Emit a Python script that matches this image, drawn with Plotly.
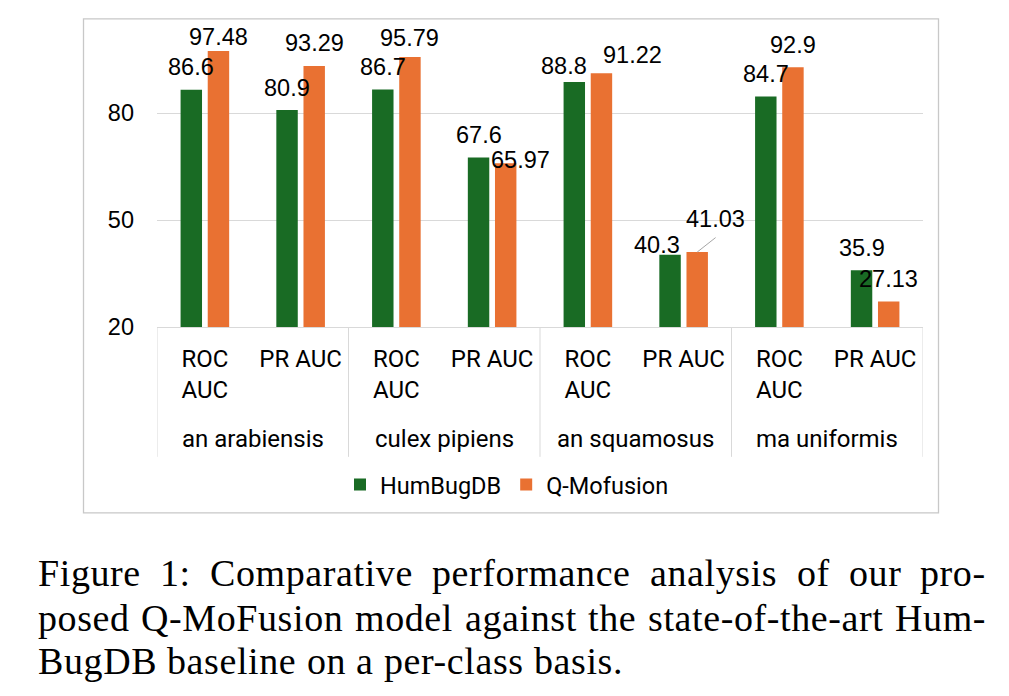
import plotly.graph_objects as go

# ---------------- data ----------------
groups = ["an arabiensis", "culex pipiens", "an squamosus", "ma uniformis"]
metrics = ["ROC<br>AUC", "PR AUC"]
series_names = ["HumBugDB", "Q-Mofusion"]
humbugdb = [86.6, 80.9, 86.7, 67.6, 88.8, 40.3, 84.7, 35.9]
qmofusion = [97.48, 93.29, 95.79, 65.97, 91.22, 41.03, 92.9, 27.13]
y_ticks = [20, 50, 80]
caption_lines = [
    "Figure 1: Comparative performance analysis of our pro-",
    "posed Q-MoFusion model against the state-of-the-art Hum-",
    "BugDB baseline on a per-class basis.",
]

# ---------------- layout constants ----------------
W, H = 1009, 696
PL, PRX, PB = 157, 923, 327
YMIN, YMAX = 20, 100
UNIT = (327 - 113) / 60.0
PT = PB - (YMAX - YMIN) * UNIT

def px_x(px):
    return (px - PL) / (PRX - PL)

def px_y(py):
    return (PB - py) / (PB - PT)

colors = ["#196B24", "#E97132"]
num_font = "Liberation Sans, Arial, sans-serif"
cat_font = "Roboto, Noto Sans, sans-serif"
cap_font = "Liberation Serif, Times New Roman, serif"

subcats = [m for g in groups for m in metrics]
xs = list(range(len(subcats)))

fig = go.Figure()
for name, vals, col in zip(series_names, [humbugdb, qmofusion], colors):
    fig.add_trace(go.Bar(x=xs, y=vals, name=name, marker=dict(color=col, line=dict(width=0))))

# data labels (with Excel-like manual adjustments)
NUM_SIZE = 23.5
BAR_OFF = 13.57
DEFAULT_GAP = 14.3
label_adjust = {
    (1, 0): (0, 5.7), (1, 2): (0, 11), (1, 3): (15, -5.3),
    (0, 4): (-10, 7.3), (1, 4): (30.6, 9.7),
    (0, 5): (-13.5, 2), (1, 5): (18, 25.3),
}
annotations = []
for si, vals in enumerate([humbugdb, qmofusion]):
    side = -BAR_OFF if si == 0 else BAR_OFF
    for i, v in enumerate(vals):
        dx, gap = label_adjust.get((si, i), (0, DEFAULT_GAP))
        annotations.append(dict(
            x=xs[i], y=v, xref="x", yref="y", text=str(v), showarrow=False,
            xanchor="center", yanchor="middle",
            xshift=side + dx, yshift=gap + 0.3465 * NUM_SIZE,
            font=dict(family=num_font, size=NUM_SIZE, color="black"),
        ))

shapes = []
# leader line for the displaced 41.03 label
shapes.append(dict(type="line", xref="x", yref="y", xsizemode="pixel", ysizemode="pixel",
                   xanchor=xs[5], yanchor=qmofusion[5],
                   x0=BAR_OFF, x1=BAR_OFF + 18.4, y0=0, y1=14.5,
                   line=dict(color="#a6a6a6", width=1)))

# group labels and dividers
for gi, g in enumerate(groups):
    annotations.append(dict(
        x=2 * gi + 0.5, y=px_y(447.5 - 0.3415 * 24), xref="x", yref="paper", text=g,
        showarrow=False, xanchor="center", yanchor="middle",
        font=dict(family=cat_font, size=24, color="black"),
    ))
for xb in [-0.5, 1.5, 3.5, 5.5, 7.5]:
    shapes.append(dict(type="line", xref="x", yref="paper", x0=xb, x1=xb,
                       y0=px_y(327), y1=px_y(457), line=dict(color="#d9d9d9", width=1)))

# chart border
shapes.append(dict(type="rect", xref="paper", yref="paper",
                   x0=px_x(83.5), x1=px_x(938.5), y0=px_y(513), y1=px_y(18.5),
                   line=dict(color="#c8c8c8", width=1.3)))

# ---------------- caption: justified, word by word ----------------
TIMES_W = {
    "B": 667, "C": 667, "D": 722, "F": 556, "H": 722, "M": 889, "Q": 722,
    "a": 444, "b": 500, "c": 444, "d": 500, "e": 444, "f": 333, "g": 500, "h": 500,
    "i": 278, "l": 278, "m": 778, "n": 500, "o": 500, "p": 500, "r": 333, "s": 389,
    "t": 278, "u": 500, "v": 500, "y": 500, "1": 500, ":": 278, "-": 333, ".": 250,
}
CAP_SIZE = 38
LSP = 0.6
CAP_LEFT, CAP_RIGHT = 37, 985
baselines = [586, 631, 674]

def word_width(w):
    return sum(TIMES_W.get(ch, 500) for ch in w) / 1000.0 * CAP_SIZE + LSP * len(w)

for li, (line, base) in enumerate(zip(caption_lines, baselines)):
    words = line.split(" ")
    widths = [word_width(w) for w in words]
    if li < len(caption_lines) - 1:
        gap = (CAP_RIGHT - CAP_LEFT - sum(widths)) / (len(words) - 1)
    else:
        gap = 0.25 * CAP_SIZE + LSP
    x = CAP_LEFT
    for w, ww in zip(words, widths):
        annotations.append(dict(
            x=px_x(x), y=px_y(base - 0.3375 * CAP_SIZE), xref="paper", yref="paper",
            text='<span style="letter-spacing:%.1fpx">%s</span>' % (LSP, w),
            showarrow=False, xanchor="left", yanchor="middle", borderpad=0,
            font=dict(family=cap_font, size=CAP_SIZE, color="black"),
        ))
        x += ww + gap

fig.update_layout(
    width=W, height=H,
    margin=dict(l=PL, r=W - PRX, t=PT, b=H - PB, pad=0),
    paper_bgcolor="white", plot_bgcolor="white",
    barmode="group", bargap=0.433, bargroupgap=0.21,
    showlegend=True,
    legend=dict(orientation="h", x=px_x(340), xanchor="left", y=px_y(485), yanchor="middle",
                font=dict(family=cat_font, size=23.5, color="black"), bgcolor="rgba(0,0,0,0)"),
    xaxis=dict(range=[-0.5, 7.5], tickvals=xs, ticktext=subcats, showgrid=False, zeroline=False,
               showline=True, linecolor="#d9d9d9", linewidth=1, ticks="",
               ticklabelstandoff=10,
               tickfont=dict(family=cat_font, size=24, color="black")),
    yaxis=dict(range=[YMIN, YMAX], tickvals=y_ticks, showgrid=True, gridcolor="#d9d9d9",
               gridwidth=1, zeroline=False, showline=False, ticks="", ticklabelstandoff=22,
               tickfont=dict(family=num_font, size=23.5, color="black")),
    annotations=annotations, shapes=shapes,
)

fig.write_html("out.html")
